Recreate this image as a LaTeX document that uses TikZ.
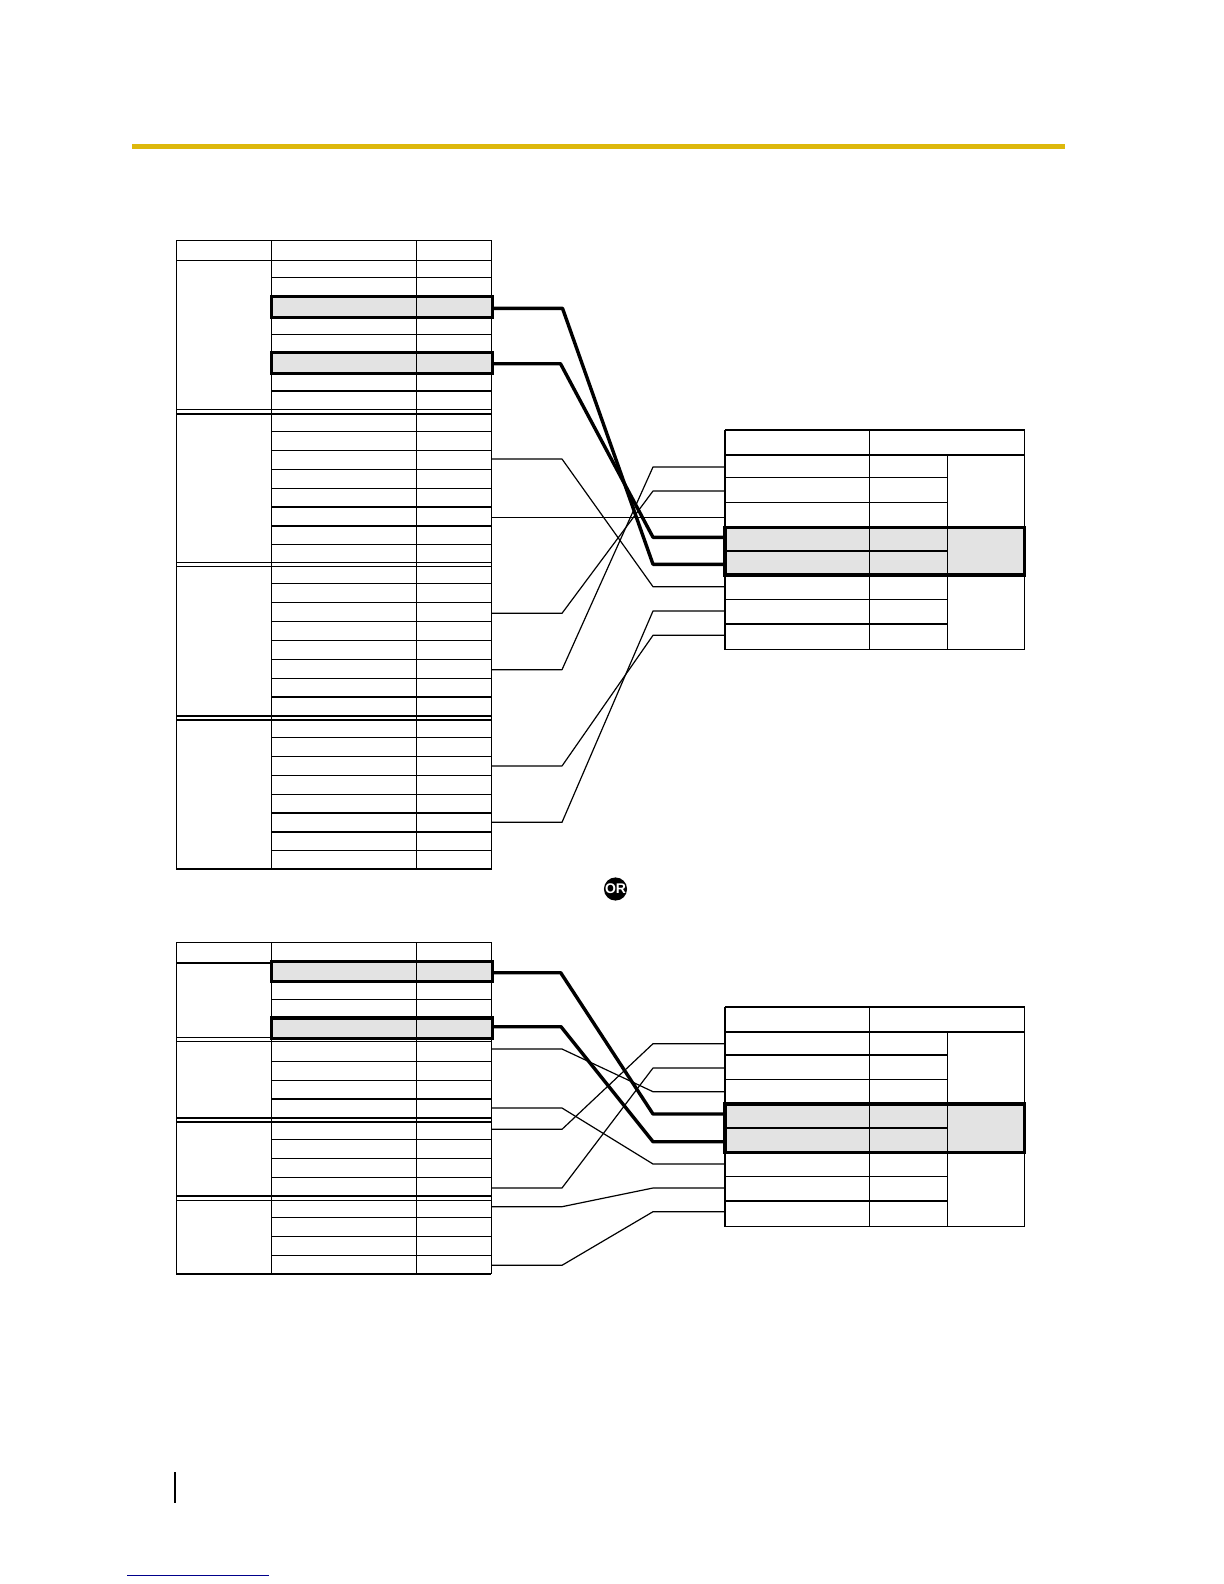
\documentclass[tikz,border=0pt]{standalone}
\usepackage{fontspec}
\setmainfont{Liberation Sans}
\definecolor{barcol}{HTML}{DDB80C}
\definecolor{rowcol}{HTML}{E3E3E3}
\definecolor{linkcol}{HTML}{00008B}
\begin{document}
\begin{tikzpicture}[
  x=0.5pt, y=-0.5pt,
  thinrule/.style={draw=black, line width=0.55pt, line cap=rect},
  medrule/.style={draw=black, line width=1pt},
  hlrow/.style={draw=black, fill=rowcol, line width=1.7pt, rectangle,
                inner sep=0pt, outer sep=0pt, anchor=north west},
  link/.style={draw=black, line width=0.6pt, line join=round},
  linkthick/.style={draw=black, line width=1.7pt, line join=round},
  badge/.style={circle, fill=black, text=white, inner sep=0pt, minimum size=11.5pt,
                font=\bfseries\fontsize{7}{8}\selectfont},
]
\useasboundingbox (0,0) rectangle (1224,1584);
\def\xa{176.3}  % left table columns
\def\xb{271.3}
\def\xc{416.3}
\def\xd{491.3}
\def\xe{725}    % right table columns
\def\xf{869.3}
\def\xg{947.5}
\def\xh{1024.3}
% Page furniture
\fill[barcol] (132,143.7) rectangle (1065,149);
\draw[draw=black, line width=1pt] (175,1472) -- (175,1502.7);
\draw[draw=linkcol, line width=0.5pt] (127,1575.3) -- (269,1575.3);
\node[badge] (orbadge) at (615.5,889) {OR};
% Highlighted rows
\node[hlrow, minimum width=110.5pt, minimum height=10.5pt] (hlupa) at (\xb,296.3) {};
\node[hlrow, minimum width=110.5pt, minimum height=10.5pt] (hlupb) at (\xb,352.7) {};
\node[hlrow, minimum width=149.65pt, minimum height=23.85pt] (hlupr) at (\xe,527.3) {};
\node[hlrow, minimum width=110.5pt, minimum height=10pt] (hlloa) at (\xb,961.7) {};
\node[hlrow, minimum width=110.5pt, minimum height=10.15pt] (hllob) at (\xb,1018) {};
\node[hlrow, minimum width=149.65pt, minimum height=24.15pt] (hllor) at (\xe,1104) {};
% Upper left table
\draw[thinrule] (\xa,240.3) -- (\xa,869);
\draw[thinrule] (\xb,240.3) -- (\xb,869);
\draw[thinrule] (\xc,240.3) -- (\xc,869);
\draw[thinrule] (\xd,240.3) -- (\xd,869);
\foreach \y in {240.3, 260.3, 409.3, 562.3, 566.3}
  \draw[thinrule] (\xa,\y) -- (\xd,\y);
\foreach \y in {413.7, 715.7, 720, 869}
  \draw[medrule] (\xa,\y) -- (\xd,\y);
\foreach \y in {277.3, 334.3, 431.3, 450.3, 469.3, 488.3, 544.3, 583.3, 602.3, 621.3, 640.3, 659.3, 678.3, 737.3, 756.3, 775.3, 794.3, 850.3}
  \draw[thinrule] (\xb,\y) -- (\xd,\y);
\foreach \y in {390.7, 506.7, 525.7, 696.7, 812.7, 831.7}
  \draw[medrule] (\xb,\y) -- (\xd,\y);
% Lower left table
\draw[thinrule] (\xa,942.3) -- (\xa,1273.7);
\draw[thinrule] (\xb,942.3) -- (\xb,1273.7);
\draw[thinrule] (\xc,942.3) -- (\xc,1273.7);
\draw[thinrule] (\xd,942.3) -- (\xd,1273.7);
\foreach \y in {942.3, 1037.3, 1041.3, 1200.3}
  \draw[thinrule] (\xa,\y) -- (\xd,\y);
\foreach \y in {1117.7, 1121.7, 1195.7, 1273.7}
  \draw[medrule] (\xa,\y) -- (\xd,\y);
\draw[medrule] (\xa,962.7) -- (\xb,962.7);
\foreach \y in {999.3, 1061.3, 1080.3, 1139.3, 1158.3, 1177.3, 1217.3, 1236.3, 1255.3}
  \draw[thinrule] (\xb,\y) -- (\xd,\y);
\draw[medrule] (\xb,1099) -- (\xd,1099);
% Upper right table
\draw[medrule] (\xe,430) -- (\xe,649.3);
\draw[thinrule] (\xf,430) -- (\xf,649.3);
\draw[thinrule] (\xg,454.7) -- (\xg,649.3);
\draw[thinrule] (\xh,430) -- (\xh,649.3);
\draw[medrule] (\xe,430) -- (\xh,430);
\draw[medrule] (\xe,454.7) -- (\xh,454.7);
\draw[thinrule] (\xe,649.3) -- (\xh,649.3);
\foreach \y in {477.3, 502.3, 599.3}
  \draw[thinrule] (\xe,\y) -- (\xg,\y);
\foreach \y in {550.7, 623.7}
  \draw[medrule] (\xe,\y) -- (\xg,\y);
% Lower right table
\draw[medrule] (\xe,1006.7) -- (\xe,1226.3);
\draw[thinrule] (\xf,1006.7) -- (\xf,1226.3);
\draw[thinrule] (\xg,1032) -- (\xg,1226.3);
\draw[thinrule] (\xh,1006.7) -- (\xh,1226.3);
\draw[medrule] (\xe,1006.7) -- (\xh,1006.7);
\draw[medrule] (\xe,1032) -- (\xh,1032);
\draw[thinrule] (\xe,1226.3) -- (\xh,1226.3);
\foreach \y in {1079.3, 1176.3}
  \draw[thinrule] (\xe,\y) -- (\xg,\y);
\foreach \y in {1054.7, 1127.7, 1200.7}
  \draw[medrule] (\xe,\y) -- (\xg,\y);
% Row outlines again, above the rules
\foreach \nm in {hlupa, hlupb, hlupr, hlloa, hllob, hllor}
  \draw[draw=black, line width=1.7pt] (\nm.north west) rectangle (\nm.south east);
% Thin connectors
\foreach \nm/\ya/\yb in {a/459/586.7, b/613.3/491, c/669.7/467, d/766/635.3, e/822.3/611,
                         f/1049/1091.7, g/1108/1164, h/1129.3/1043.7, i/1188/1068, j/1206.7/1188, k/1265.3/1211.7} {
  \coordinate (src\nm) at (\xd,\ya);
  \coordinate (dst\nm) at (\xe,\yb);
  \draw[link] (src\nm) -- (562,\ya) -- (653,\yb) -- (dst\nm);
}
\coordinate (srcs) at (\xd,517.7);
\coordinate (dsts) at (\xe,517.7);
\draw[link] (srcs) -- (dsts);
% Thick connectors
\foreach \nm/\ya/\xm/\yb in {m/308.3/562.5/564.3, n/363.7/560.5/537.3, o/972.7/560.7/1114, p/1026.7/561/1141.7} {
  \coordinate (src\nm) at (\xd,\ya);
  \coordinate (dst\nm) at (\xe,\yb);
  \draw[linkthick] (src\nm) -- (\xm,\ya) -- (653,\yb) -- (dst\nm);
}
\end{tikzpicture}
\end{document}
